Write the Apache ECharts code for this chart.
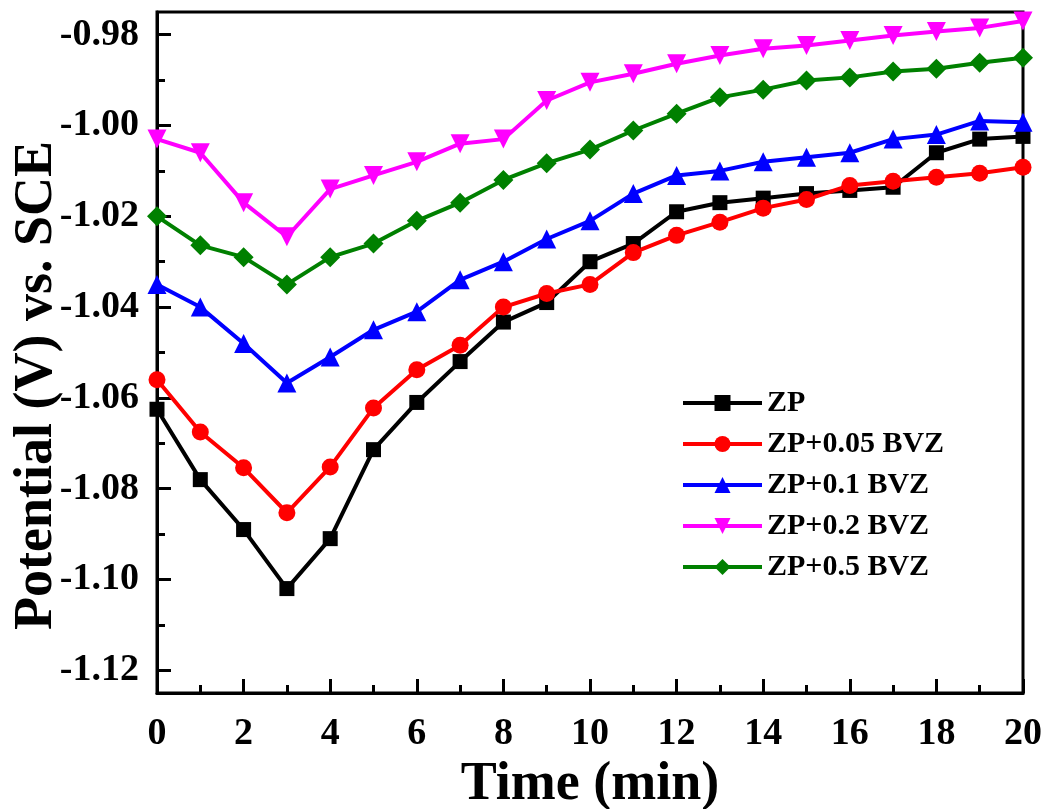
<!DOCTYPE html>
<html>
<head>
<meta charset="utf-8">
<script src="https://cdn.jsdelivr.net/npm/echarts@6/dist/echarts.min.js"></script>
<style>
  html, body { margin: 0; padding: 0; background: #fff; }
  #chart { width: 1050px; height: 809px; }
</style>
</head>
<body>
<div id="chart"></div>
<script>
const time = [0, 1, 2, 3, 4, 5, 6, 7, 8, 9, 10, 11, 12, 13, 14, 15, 16, 17, 18, 19, 20];

const zp = [-1.0625, -1.078, -1.089, -1.102, -1.091, -1.0714, -1.061, -1.052, -1.0433, -1.039, -1.030, -1.026, -1.019, -1.017, -1.016, -1.015, -1.0143, -1.0136, -1.006, -1.003, -1.0024];
const zp005 = [-1.056, -1.0675, -1.0754, -1.0853, -1.0752, -1.0622, -1.0538, -1.0484, -1.040, -1.037, -1.035, -1.028, -1.0242, -1.0213, -1.0182, -1.0163, -1.0132, -1.0123, -1.0114, -1.0105, -1.0092];
const zp01 = [-1.035, -1.040, -1.048, -1.0567, -1.051, -1.045, -1.041, -1.034, -1.030, -1.025, -1.021, -1.015, -1.011, -1.010, -1.008, -1.007, -1.006, -1.003, -1.002, -0.999, -0.9993];
const zp02 = [-1.003, -1.006, -1.017, -1.0245, -1.014, -1.011, -1.008, -1.004, -1.003, -0.9945, -0.9905, -0.9886, -0.9864, -0.9846, -0.9831, -0.9824, -0.9813, -0.9802, -0.9793, -0.9785, -0.977];
const zp05 = [-1.020, -1.0264, -1.029, -1.035, -1.029, -1.026, -1.021, -1.017, -1.012, -1.0083, -1.0053, -1.0011, -0.9974, -0.9938, -0.9921, -0.9901, -0.9894, -0.9881, -0.9875, -0.9862, -0.9851];

const yLabels = [-1.12, -1.10, -1.08, -1.06, -1.04, -1.02, -1.00, -0.98];
const yMinor = [-1.11, -1.09, -1.07, -1.05, -1.03, -1.01, -0.99];

const font = "Liberation Serif";

let chart = echarts.init(document.getElementById("chart"));

function pairs(arr) {
    return time.map((t, i) => [t, arr[i]]);
}

function makeSeries(name, arr, color, symbol, size) {
    return {
        name: name,
        type: "line",
        data: pairs(arr),
        symbol: symbol,
        symbolSize: size,
        showAllSymbol: true,
        lineStyle: { color: color, width: 4 },
        itemStyle: { color: color },
        z: 3
    };
}

let option = {
    animation: false,
    grid: {
        left: 157,
        right: 27,
        top: 12,
        bottom: 116,
        outerBoundsMode: "none",
        containLabel: false,
        show: true,
        borderColor: "#000",
        borderWidth: 3,
        backgroundColor: "transparent"
    },
    legend: {
        orient: "vertical",
        left: 676,
        top: 383,
        itemWidth: 79,
        itemHeight: 20,
        itemGap: 11,
        lineStyle: { width: 4 },
        textStyle: { fontFamily: font, fontWeight: "bold", fontSize: 30, color: "#000", lineHeight: 30 },
        data: ["ZP", "ZP+0.05 BVZ", "ZP+0.1 BVZ", "ZP+0.2 BVZ", "ZP+0.5 BVZ"]
    },
    xAxis: {
        type: "value",
        min: 0,
        max: 20,
        interval: 2,
        name: "Time (min)",
        nameLocation: "middle",
        nameGap: 52,
        nameTextStyle: { fontFamily: font, fontWeight: "bold", fontSize: 54, color: "#000" },
        axisLine: { show: true, lineStyle: { color: "#000", width: 3 } },
        axisTick: { show: true, inside: true, length: 14, lineStyle: { color: "#000", width: 3 } },
        minorTick: { show: true, splitNumber: 2, length: 8, lineStyle: { color: "#000", width: 3 } },
        axisLabel: { fontFamily: font, fontWeight: "bold", fontSize: 38, color: "#000", margin: 22 },
        splitLine: { show: false }
    },
    yAxis: [
        {
            type: "value",
            min: -1.125,
            max: -0.975,
            name: "Potential (V) vs. SCE",
            nameLocation: "middle",
            nameGap: 93,
            nameMoveOverlap: false,
            nameTextStyle: { fontFamily: font, fontWeight: "bold", fontSize: 54, color: "#000", padding: [0, 66, 0, 0] },
            axisLine: { show: true, lineStyle: { color: "#000", width: 3 } },
            axisTick: { show: true, inside: true, length: 14, customValues: yLabels, lineStyle: { color: "#000", width: 3 } },
            axisLabel: {
                customValues: yLabels,
                fontFamily: font, fontWeight: "bold", fontSize: 38, color: "#000", margin: 18,
                formatter: v => v.toFixed(2)
            },
            splitLine: { show: false }
        },
        {
            type: "value",
            min: -1.125,
            max: -0.975,
            position: "left",
            axisLine: { show: false },
            axisTick: { show: true, inside: true, length: 8, customValues: yMinor, lineStyle: { color: "#000", width: 3 } },
            axisLabel: { show: false },
            splitLine: { show: false }
        }
    ],
    series: [
        makeSeries("ZP", zp, "#000000", "rect", 15),
        makeSeries("ZP+0.05 BVZ", zp005, "#ff0000", "circle", 17),
        makeSeries("ZP+0.1 BVZ", zp01, "#0000ff", "triangle", 19),
        makeSeries("ZP+0.2 BVZ", zp02, "#ff00ff", "path://M0,0 L10,0 L5,9 Z", 19),
        makeSeries("ZP+0.5 BVZ", zp05, "#008000", "diamond", 20)
    ]
};
chart.setOption(option);
</script>
</body>
</html>
